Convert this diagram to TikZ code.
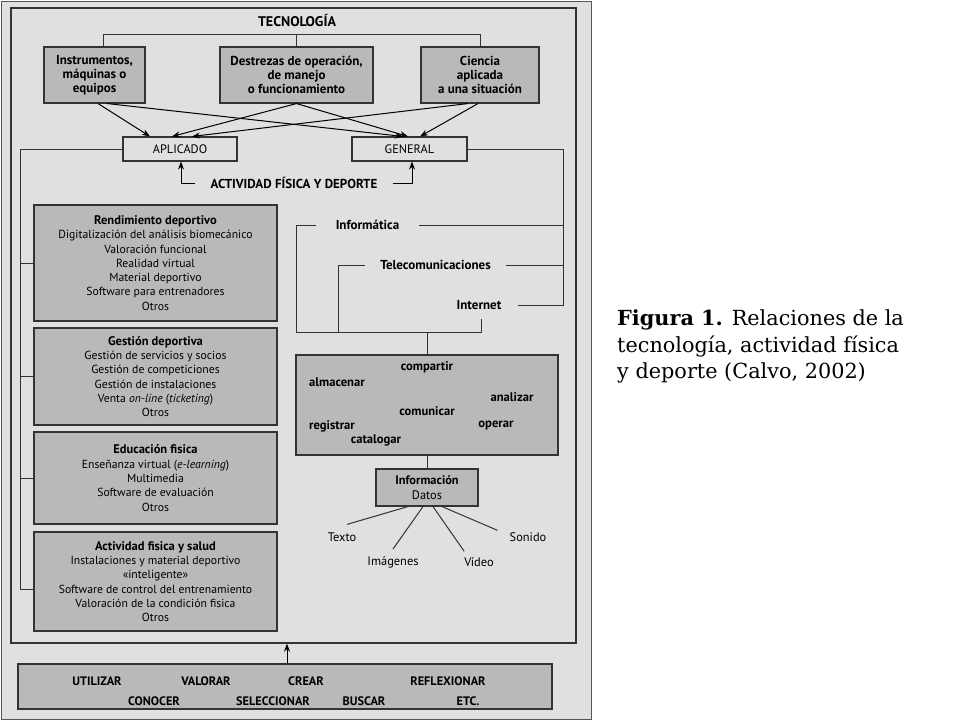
\documentclass[tikz,border=0pt]{standalone}
\usepackage{fontspec}
\setmainfont{PT Sans}
\newfontfamily\capfont{DejaVu Serif}
\usetikzlibrary{arrows.meta,calc}
\definecolor{panelc}{HTML}{E0E0E0}
\definecolor{boxc}{HTML}{B9B9B9}
\definecolor{linec}{HTML}{333333}
\definecolor{edgec}{HTML}{555555}
\newcommand{\bttl}[1]{{\fontsize{12.5}{14.3}\selectfont\bfseries #1}}
\begin{document}
\begin{tikzpicture}[x=1pt,y=-1pt,
  box/.style={draw=linec, line width=1.1pt, fill=boxc, align=center, inner sep=0pt},
  wbox/.style={draw=linec, line width=1.1pt, fill=panelc, align=center, inner sep=0pt},
  ln/.style={draw=linec, line width=1pt},
  arr/.style={draw=black, line width=1pt, -{Stealth[length=8pt,width=6pt]}},
  ft/.style={font=\fontsize{11.7}{14.3}\selectfont},
  lt/.style={font=\fontsize{12.4}{14.3}\selectfont},
  bt/.style={font=\fontsize{13}{14}\selectfont\bfseries},
  bw/.style={font=\fontsize{12.6}{14}\selectfont\bfseries},
  bw2/.style={font=\fontsize{12.3}{14}\selectfont\bfseries},
  lbl/.style={inner sep=0pt, align=center},
  capf/.style={anchor=base west, inner sep=0pt, font=\capfont\fontsize{20.8}{27}\selectfont}
]
\useasboundingbox (0,0) rectangle (960,720);
\fill[white] (0,0) rectangle (960,720);
\node[draw=edgec, line width=1pt, fill=panelc, minimum width=590, minimum height=718, inner sep=0pt] (panel) at (296,360) {};
\node[draw=linec, line width=1.4pt, minimum width=565, minimum height=635, inner sep=0pt] (frame) at (293.5,325.5) {};

% top
\node[lbl, font=\fontsize{14}{14}\selectfont\bfseries] (tec) at (297,21) {TECNOLOGÍA};
\node[box, bt, minimum width=101, minimum height=56] (ins) at (94.5,75) {Instrumentos,\\máquinas o\\equipos};
\node[box, bt, minimum width=153, minimum height=56] (des) at (296.5,75) {Destrezas de operación,\\de manejo\\o funcionamiento};
\node[box, bt, minimum width=118, minimum height=56] (cie) at (480,75) {Ciencia\\aplicada\\a una situación};
\draw[ln] ([xshift=8.5]ins.north) -- ++(0,-12) -| (cie.north);
\draw[ln] (des.north) -- ++(0,-12);

\node[wbox, font=\fontsize{12.3}{14}\selectfont, minimum width=114, minimum height=24] (apl) at (180,149) {APLICADO};
\node[wbox, font=\fontsize{12.3}{14}\selectfont, minimum width=115, minimum height=24] (gen) at (409.5,149) {GENERAL};

\draw[arr] ([xshift=3.5]ins.south) -- ([xshift=-30]apl.north);
\draw[arr] ([xshift=12.5]ins.south) -- ([xshift=-6.5]gen.north);
\draw[arr] (des.south) -- ([xshift=-8]apl.north);
\draw[arr] (des.south) -- ([xshift=-1.5]gen.north);
\draw[arr] ([xshift=-12]cie.south) -- ([xshift=12]apl.north);
\draw[arr] ([xshift=-2]cie.south) -- ([xshift=10.5]gen.north);

\node[bt, lbl] (afd) at (294,183) {ACTIVIDAD FÍSICA Y DEPORTE};
\draw[arr] ([xshift=-15]afd.west) -| ([xshift=1]apl.south);
\draw[arr] ([xshift=15]afd.east) -| ([xshift=2.5]gen.south);

% left column
\node[box, ft, minimum width=243, minimum height=116] (ren) at (155.5,263) {\bttl{Rendimiento deportivo}\\Digitalización del análisis biomecánico\\Valoración funcional\\Realidad virtual\\Material deportivo\\Software para entrenadores\\Otros};
\node[box, ft, minimum width=243, minimum height=97] (ges) at (155.5,376.5) {\bttl{Gestión deportiva}\\Gestión de servicios y socios\\Gestión de competiciones\\Gestión de instalaciones\\Venta \textit{on-line} (\textit{ticketing})\\Otros};
\node[box, ft, minimum width=243, minimum height=92] (edu) at (155.5,478) {\bttl{Educación fisica}\\Enseñanza virtual (\textit{e-learning})\\Multimedia\\Software de evaluación\\Otros};
\node[box, ft, minimum width=243, minimum height=99] (asa) at (155.5,581.5) {\bttl{Actividad fisica y salud}\\Instalaciones y material deportivo\\«inteligente»\\Software de control del entrenamiento\\Valoración de la condición fisica\\Otros};
\coordinate (lb) at (20,589);
\draw[ln] (apl.west) -| (lb) -- (lb -| asa.west);
\draw[ln] (ren.west) -- (ren.west -| lb);
\draw[ln] (ges.west) -- (ges.west -| lb);
\draw[ln] (edu.west) -- (edu.west -| lb);

% right column
\coordinate (rv) at (563,305);
\coordinate (bl) at (296,332);
\coordinate (tl) at (338,332);
\coordinate (br) at (481,332);
\node[bt, inner sep=0pt, minimum width=103, minimum height=14] (inf) at (367.5,225) {Informática};
\node[bt, inner sep=0pt, minimum width=141, minimum height=14] (tel) at (435.5,265) {Telecomunicaciones};
\node[bt, inner sep=0pt, minimum width=78, minimum height=28] (int) at (479,305) {Internet};
\draw[ln] (gen.east) -| (rv) -- (int.east);
\draw[ln] (inf.east) -- (inf.east -| rv);
\draw[ln] (tel.east) -- (tel.east -| rv);
\draw[ln] (inf.west) -| (bl) -- (br) -- (br |- int.south);
\draw[ln] (tel.west) -| (tl);

\node[box, minimum width=262, minimum height=100] (acc) at (427,405) {};
\draw[ln] (acc.north) -- (acc.north |- bl);
\node[bw, lbl] (w1) at (427,367) {compartir};
\node[bw, lbl] (w2) at (337,382) {almacenar};
\node[bw, lbl] (w3) at (512,397) {analizar};
\node[bw, lbl] (w4) at (427,411) {comunicar};
\node[bw, lbl] (w5) at (332,426) {registrar};
\node[bw, lbl] (w6) at (496,426) {operar};
\node[bw, lbl] (w7) at (376,440) {catalogar};

\node[box, lt, minimum width=102, minimum height=37] (info) at (427,487.5) {\textbf{Información}\\Datos};
\draw[ln] (acc.south) -- (info.north);
\node[lt, lbl] (tx) at (342,537) {Texto};
\node[lt, lbl] (im) at (393,562) {Imágenes};
\node[lt, lbl] (vi) at (479,562) {Vídeo};
\node[lt, lbl] (so) at (528,537) {Sonido};
\draw[ln] ([xshift=-19]info.south) -- ([xshift=5,yshift=8]tx.north);
\draw[ln] ([xshift=-4]info.south) -- ([yshift=7]im.north);
\draw[ln] ([xshift=6]info.south) -- ([yshift=6]vi.north west);
\draw[ln] ([xshift=15]info.south) -- ([xshift=-12,yshift=2]so.north west);

% bottom
\node[box, minimum width=534, minimum height=45] (bot) at (285,686.5) {};
\draw[arr] ([xshift=2]bot.north) -- ([xshift=2]bot.north |- frame.south);
\node[bw2, lbl] (b1) at (97,681) {UTILIZAR};
\node[bw2, lbl] (b2) at (206,681) {VALORAR};
\node[bw2, lbl] (b3) at (306,681) {CREAR};
\node[bw2, lbl] (b4) at (448,681) {REFLEXIONAR};
\node[bw2, lbl] (b5) at (154,701) {CONOCER};
\node[bw2, lbl] (b6) at (273,701) {SELECCIONAR};
\node[bw2, lbl] (b7) at (364,701) {BUSCAR};
\node[bw2, lbl] (b8) at (468,701) {ETC.};

% caption
\node[capf] (cap1) at (617,325) {\textbf{Figura 1.} Relaciones de la};
\node[capf] (cap2) at (617,352) {tecnología, actividad física};
\node[capf] (cap3) at (617,378) {y deporte (Calvo, 2002)};
\end{tikzpicture}
\end{document}
